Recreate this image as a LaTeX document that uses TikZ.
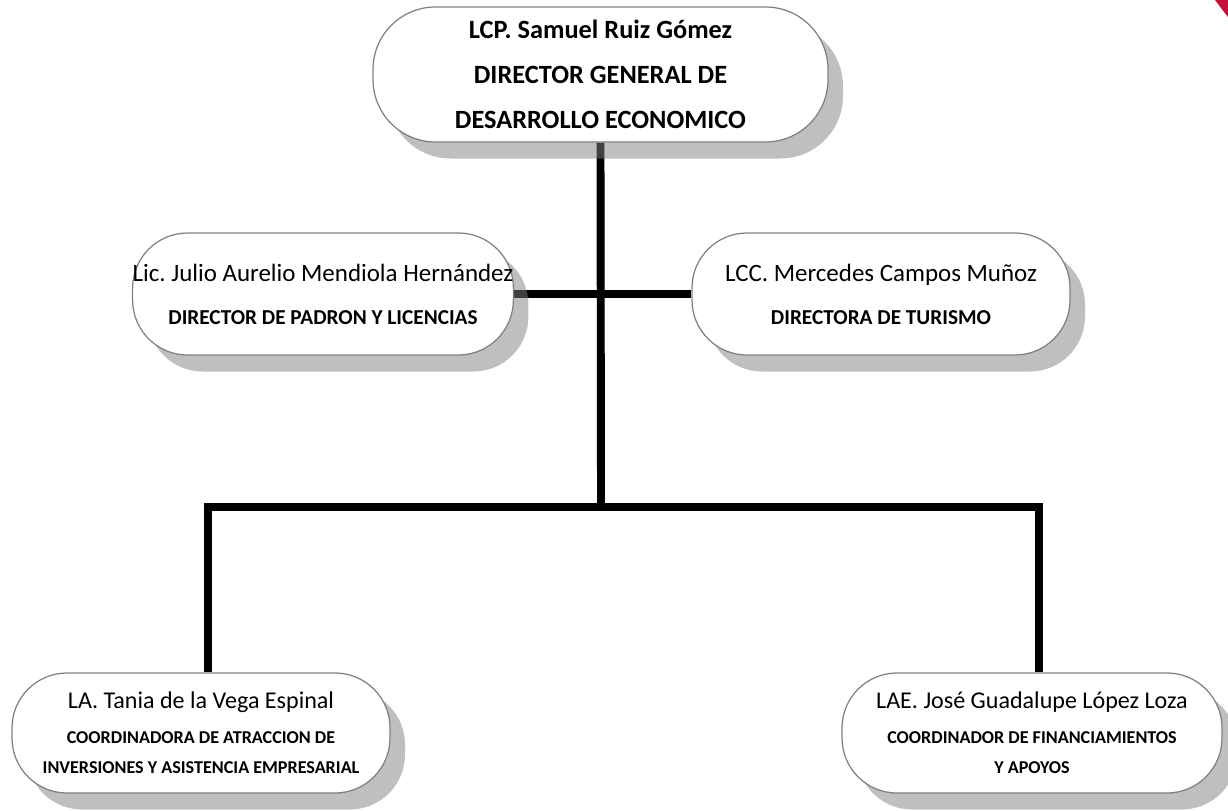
\documentclass[tikz,border=0pt]{standalone}
\usepackage{fontspec}
\setmainfont{Carlito}
\frenchspacing
\usetikzlibrary{backgrounds}
\definecolor{cornerred}{RGB}{196,18,58}
\tikzset{
    person/.style={
        rectangle, draw=black!50, line width=0.7pt,
        rounded corners=1.1cm, fill=white, align=center, inner sep=0pt,
        preaction={draw=none, fill=black!50, fill opacity=0.5,
                   transform canvas={xshift=0.3cm, yshift=-0.33cm}},
        font=\fontsize{14.2}{24.5}\selectfont
    },
    link/.style={draw=black, line width=4.5pt, line join=miter}
}
\newcommand{\rolebig}{\bfseries\fontsize{12.1}{24.5}\selectfont}
\newcommand{\rolesmall}{\bfseries\fontsize{10.3}{17}\selectfont}

\begin{document}
\begin{tikzpicture}
\useasboundingbox (0,0) rectangle (24.56,-16.22);

% Director general (top)
\node[person, minimum width=9.1cm, minimum height=2.7cm, rounded corners=1.25cm,
      font=\bfseries\fontsize{15}{25.6}\selectfont] (sam) at (12.01,-1.49)
      {LCP. Samuel Ruiz Gómez\\DIRECTOR GENERAL DE\\DESARROLLO ECONOMICO};

% Directors (middle)
\node[person, minimum width=7.6cm, minimum height=2.44cm] (jmh) at (6.46,-5.88)
      {Lic. Julio Aurelio Mendiola Hernández\\{\rolebig DIRECTOR DE PADRON Y LICENCIAS}};
\node[person, minimum width=7.56cm, minimum height=2.44cm] (mcm) at (17.62,-5.88)
      {LCC. Mercedes Campos Muñoz\\{\rolebig DIRECTORA DE TURISMO}};

% Coordinators (bottom)
\node[person, minimum width=7.56cm, minimum height=2.4cm,
      font=\fontsize{13.7}{17}\selectfont] (tve) at (4.02,-14.66)
      {LA. Tania de la Vega Espinal\\[3pt]{\rolesmall COORDINADORA DE ATRACCION DE}\\{\rolesmall INVERSIONES Y ASISTENCIA EMPRESARIAL}};
\node[person, minimum width=7.6cm, minimum height=2.4cm,
      font=\fontsize{13.7}{17}\selectfont] (jgl) at (20.64,-14.66)
      {LAE. José Guadalupe López Loza\\[3pt]{\rolesmall COORDINADOR DE FINANCIAMIENTOS}\\{\rolesmall Y APOYOS}};

\coordinate (split) at (12.02,-10.14);

% Connections
\begin{scope}[on background layer]
\draw[link] (sam.south) -- (split);
\draw[link] (jmh.east) -- (mcm.west);
\draw[link] ([xshift=0.14cm]tve.north) |- (split) -| ([xshift=0.14cm]jgl.north);
\end{scope}

% corner mark
\fill[cornerred] (24.3,0) -- (24.56,0) -- (24.56,-0.34) .. controls (24.45,-0.2) .. cycle;

\end{tikzpicture}
\end{document}
